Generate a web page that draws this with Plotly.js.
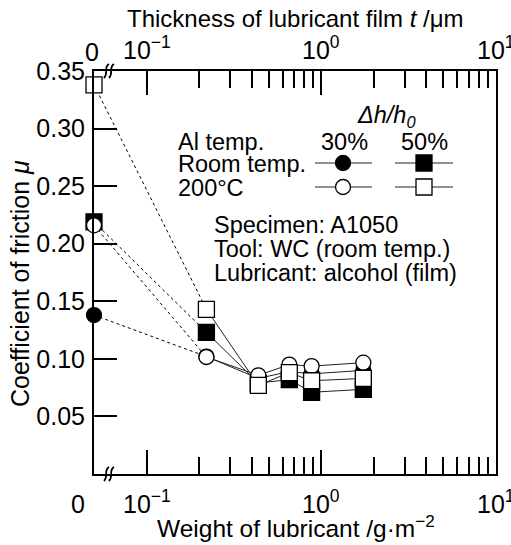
<!DOCTYPE html>
<html><head><meta charset="utf-8">
<script src="https://cdn.plot.ly/plotly-3.0.1.min.js"></script>
<style>body{margin:0;background:#fff}#chart{width:511px;height:545px}</style>
</head><body><div id="chart"></div>
<script>
// ---- data ----
const weight = [0, 0.22, 0.436, 0.656, 0.88, 1.74];          // g/m^2 ; 0 drawn at the axis break
const room30 = [0.138, 0.102, 0.083, 0.089, 0.087, 0.090];
const room50 = [0.219, 0.123, 0.079, 0.082, 0.071, 0.0735];
const hot30  = [0.216, 0.1016, 0.0857, 0.095, 0.0937, 0.0967];
const hot50  = [0.338, 0.143, 0.077, 0.088, 0.081, 0.083];
const yTickVals = [0.05, 0.10, 0.15, 0.20, 0.25, 0.30, 0.35];
const yTickText = ['0.05', '0.10', '0.15', '0.20', '0.25', '0.30', '0.35'];
const xTickVals = [0.1, 1, 10];
const xTickText = ['10<sup>\u22121</sup>', '10<sup>0</sup>', '10<sup>1</sup>'];
const xMinorVals = [0.2,0.3,0.4,0.5,0.6,0.7,0.8,0.9,2,3,4,5,6,7,8,9];
const zeroLabel = '0';

// ---- layout helpers ----
const xBreak = 0.05;                     // position on log axis that stands for weight 0
const xs = weight.map(w => w === 0 ? xBreak : w);
const FONT = 'Liberation Sans, Arial, sans-serif';
const PL = 94, PR = 496, PT = 71, PB = 474;
const px = x => (x - PL) / (PR - PL);
const py = y => (PB - y) / (PB - PT);
const logRange = [Math.log10(xBreak), 1];
const xPaper = v => (Math.log10(v) - logRange[0]) / (logRange[1] - logRange[0]);

const series = [
  {v: room30, sym: 'circle', fill: 'black', size: 15},
  {v: room50, sym: 'square', fill: 'black', size: 16},
  {v: hot30,  sym: 'circle', fill: 'white', size: 15},
  {v: hot50,  sym: 'square', fill: 'white', size: 16}
];

const traces = [];
series.forEach(s => {
  traces.push({x: xs.slice(0, 2), y: s.v.slice(0, 2), mode: 'lines', type: 'scatter',
    line: {color: 'black', width: 1, dash: '3px,3px'}, showlegend: false, hoverinfo: 'skip'});
  traces.push({x: xs.slice(1), y: s.v.slice(1), mode: 'lines', type: 'scatter',
    line: {color: '#222', width: 1}, showlegend: false, hoverinfo: 'skip'});
});
series.forEach(s => {
  traces.push({x: xs, y: s.v, mode: 'markers', type: 'scatter', cliponaxis: false,
    marker: {symbol: s.sym, size: s.size, color: s.fill, line: {color: 'black', width: 1.3}},
    showlegend: false});
});
// top axis carrier
traces.push({x: [xBreak], y: [0.2], xaxis: 'x2', yaxis: 'y', mode: 'markers',
  marker: {opacity: 0}, showlegend: false, hoverinfo: 'skip'});

// legend samples in pixel coords on an overlay axis
const legRows = [163, 187];
const legCols = [[315, 343, 372], [395, 424, 453]];
series.forEach((s, i) => {
  const row = legRows[i < 2 ? 0 : 1];
  const col = legCols[i % 2];
  traces.push({x: [col[0], col[2]], y: [row, row], xaxis: 'x3', yaxis: 'y3', mode: 'lines',
    line: {color: '#222', width: 1}, showlegend: false, hoverinfo: 'skip'});
  traces.push({x: [col[1]], y: [row], xaxis: 'x3', yaxis: 'y3', mode: 'markers', cliponaxis: false,
    marker: {symbol: s.sym, size: s.size, color: s.fill, line: {color: 'black', width: 1.3}},
    showlegend: false, hoverinfo: 'skip'});
});

function ann(text, x, y, opt) {
  return Object.assign({text: text, x: px(x), y: py(y), xref: 'paper', yref: 'paper',
    showarrow: false, xanchor: 'center', yanchor: 'middle',
    font: {family: FONT, size: 23.5, color: 'black'}}, opt || {});
}
const F25 = {family: FONT, size: 25, color: 'black'};
const F24 = {family: FONT, size: 24, color: 'black'};
const annotations = [
  ann('Thickness of lubricant film <i>t</i> /\u03bcm', 295, 19, {font: F24}),
  ann('Weight of lubricant /g\u00b7m<sup>\u22122</sup>', 296, 526, {font: {family: FONT, size: 24.5, color: 'black'}}),
  ann('Coefficient of friction <i>\u03bc</i>', 20, 284, {textangle: -90, font: F25}),
  ann(zeroLabel, 78, 504, {font: F25}),
  ann(zeroLabel, 92, 52, {font: F25}),
  ann('<i>\u0394h/h<sub>0</sub></i>', 386, 116),
  ann('Al temp.', 176, 142, {xanchor: 'left'}),
  ann('30%', 344, 142),
  ann('50%', 424, 142),
  ann('Room temp.', 176, 164, {xanchor: 'left'}),
  ann('200\u00b0C', 176, 188, {xanchor: 'left'}),
  ann('Specimen: A1050', 212, 225, {xanchor: 'left'}),
  ann('Tool: WC (room temp.)', 212, 249, {xanchor: 'left'}),
  ann('Lubricant: alcohol (film)', 212, 273, {xanchor: 'left'})
];
// x tick labels (bottom and top), placed at the tick positions of the log axis
xTickVals.forEach((v, i) => {
  [py(502), py(48)].forEach(yp => {
    annotations.push({text: xTickText[i], x: xPaper(v), y: yp, xref: 'paper', yref: 'paper',
      showarrow: false, xanchor: 'center', yanchor: 'middle', font: F25});
  });
});

function squiggle(x, y) {
  const shapes = [];
  [0, 5].forEach(d => {
    const p = [[x + d + 3, y - 7], [x + d - 3, y - 3], [x + d + 3, y + 2], [x + d - 2, y + 7]];
    const path = 'M ' + px(p[0][0]) + ',' + py(p[0][1]) +
      ' C ' + px(p[1][0]) + ',' + py(p[1][1]) + ' ' + px(p[2][0]) + ',' + py(p[2][1]) + ' ' +
      px(p[3][0]) + ',' + py(p[3][1]);
    shapes.push({type: 'path', path: path, xref: 'paper', yref: 'paper',
      line: {color: 'black', width: 1.8}});
  });
  return shapes;
}

const xCommon = {
  type: 'log', range: logRange, showgrid: false, zeroline: false,
  showline: true, linecolor: 'black', linewidth: 2,
  ticks: 'inside', ticklen: 24, tickwidth: 2, tickcolor: 'black',
  tickmode: 'array', tickvals: xTickVals, ticktext: xTickText, showticklabels: false,
  minor: {tickmode: 'array', tickvals: xMinorVals, ticks: 'inside', ticklen: 17, tickwidth: 2, tickcolor: 'black', showgrid: false}
};

const layout = {
  width: 511, height: 545,
  margin: {l: PL, r: 511 - PR, t: PT, b: 545 - PB, pad: 0},
  paper_bgcolor: 'white', plot_bgcolor: 'white',
  showlegend: false,
  font: {family: FONT, size: 24, color: 'black'},
  xaxis: Object.assign({}, xCommon, {side: 'bottom', anchor: 'y'}),
  xaxis2: Object.assign({}, xCommon, {side: 'top', overlaying: 'x', anchor: 'y'}),
  yaxis: {
    range: [0, 0.35], showgrid: false, zeroline: false,
    showline: true, linecolor: 'black', linewidth: 2, mirror: true,
    ticks: 'inside', ticklen: 23, tickwidth: 2, tickcolor: 'black',
    tickmode: 'array', tickvals: yTickVals, ticktext: yTickText,
    tickfont: F25, ticklabelstandoff: 2
  },
  xaxis3: {range: [PL, PR], overlaying: 'x', anchor: 'y3', visible: false, fixedrange: true},
  yaxis3: {range: [PB, PT], overlaying: 'y', anchor: 'x3', visible: false, fixedrange: true},
  annotations: annotations,
  shapes: squiggle(106, PB).concat(squiggle(106, PT))
};

Plotly.newPlot('chart', traces, layout, {staticPlot: true});
</script>
</body></html>
